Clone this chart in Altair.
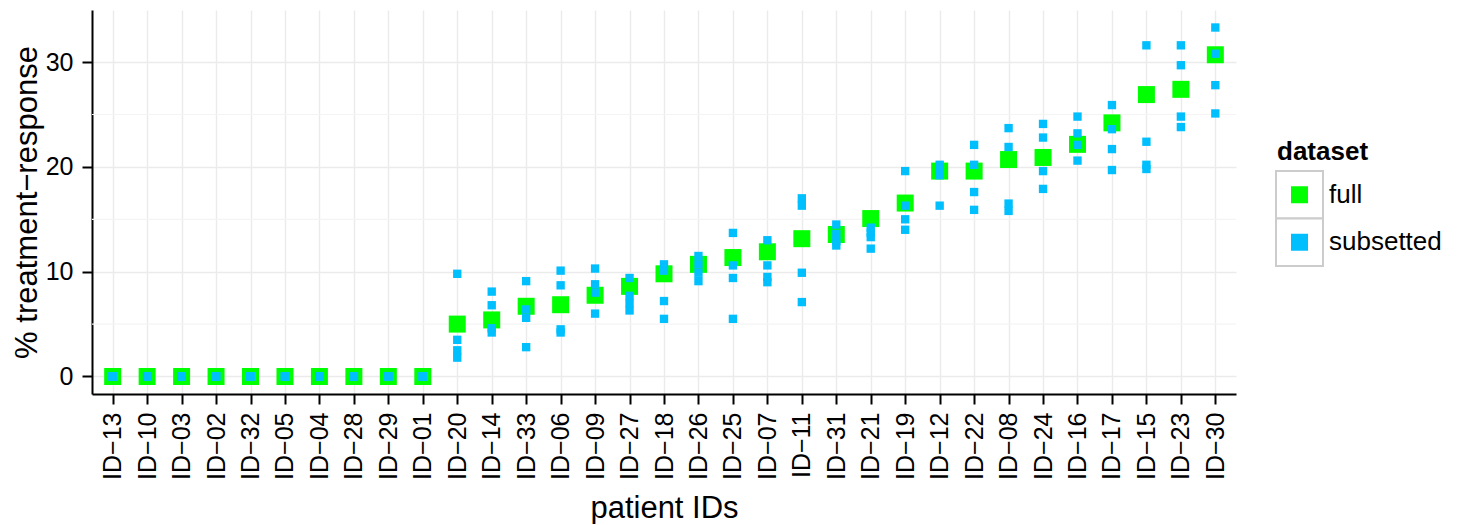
import altair as alt
import pandas as pd

FONT = "Liberation Sans"

patients = ["ID−13", "ID−10", "ID−03", "ID−02", "ID−32", "ID−05", "ID−04", "ID−28",
            "ID−29", "ID−01", "ID−20", "ID−14", "ID−33", "ID−06", "ID−09", "ID−27",
            "ID−18", "ID−26", "ID−25", "ID−07", "ID−11", "ID−31", "ID−21", "ID−19",
            "ID−12", "ID−22", "ID−08", "ID−24", "ID−16", "ID−17", "ID−15", "ID−23", "ID−30"]

full_values = [0, 0, 0, 0, 0, 0, 0, 0, 0, 0,
               5.0, 5.4, 6.7, 6.85, 7.75, 8.6, 9.8, 10.7, 11.35, 11.9, 13.15, 13.55,
               15.07, 16.55, 19.6, 19.6, 20.7, 20.9, 22.15, 24.2, 26.9, 27.4, 30.7]

subset_values = [
    [0, 0, 0, 0], [0, 0, 0, 0], [0, 0, 0, 0], [0, 0, 0, 0], [0, 0, 0, 0],
    [0, 0, 0, 0], [0, 0, 0, 0], [0, 0, 0, 0], [0, 0, 0, 0], [0, 0, 0, 0],
    [9.8, 3.5, 2.5, 1.8],      # ID-20
    [8.1, 6.8, 4.6, 4.2],      # ID-14
    [9.1, 6.4, 5.6, 2.8],      # ID-33
    [10.1, 8.7, 4.5, 4.2],     # ID-06
    [10.3, 8.8, 8.0, 6.0],     # ID-09
    [9.4, 7.7, 7.0, 6.3],      # ID-27
    [10.7, 10.1, 7.2, 5.5],    # ID-18
    [11.5, 10.7, 9.9, 9.1],    # ID-26
    [13.7, 10.6, 9.4, 5.5],    # ID-25
    [13.0, 10.6, 9.5, 9.0],    # ID-07
    [17.0, 16.3, 9.9, 7.1],    # ID-11
    [14.5, 13.6, 12.9, 12.5],  # ID-31
    [14.2, 13.7, 13.3, 12.2],  # ID-21
    [19.6, 16.3, 15.0, 14.0],  # ID-19
    [20.2, 19.6, 19.2, 16.3],  # ID-12
    [22.1, 20.2, 17.6, 15.9],  # ID-22
    [23.7, 21.9, 16.5, 15.8],  # ID-08
    [24.1, 22.8, 19.6, 17.9],  # ID-24
    [24.8, 23.2, 22.1, 20.6],  # ID-16
    [25.9, 23.6, 21.7, 19.7],  # ID-17
    [31.6, 22.4, 20.2, 19.8],  # ID-15
    [31.6, 29.7, 24.8, 23.8],  # ID-23
    [33.3, 30.8, 27.8, 25.1],  # ID-30
]

y_ticks = [0, 10, 20, 30]
minor_grid = [5, 15, 25]
legend_labels = ["full", "subsetted"]
legend_colors = ["#00ff00", "#00bfff"]

df_full = pd.DataFrame({"patient": patients, "value": full_values, "dataset": "full"})
df_sub = pd.DataFrame([
    {"patient": p, "value": v, "dataset": "subsetted"}
    for p, vals in zip(patients, subset_values) for v in vals
])
df_minor = pd.DataFrame({"value": minor_grid})

color_scale = alt.Scale(domain=legend_labels, range=legend_colors)
no_frame = alt.ViewBackground(stroke="transparent", strokeWidth=0)

x_enc = alt.X(
    "patient:N", sort=patients,
    scale=alt.Scale(type="point", padding=0.6, domain=patients),
    axis=alt.Axis(title="patient IDs", labelAngle=270, labelFontSize=25, labelColor="black",
                  titleFontSize=31, titleColor="black", titleFontWeight="normal",
                  titlePadding=14, labelPadding=8,
                  domainColor="black", domainWidth=2, tickColor="black", tickWidth=2,
                  tickSize=10, grid=True, gridColor="#ebebeb", gridWidth=1.4,
                  labelFont=FONT, titleFont=FONT),
)
y_enc = alt.Y(
    "value:Q",
    scale=alt.Scale(domain=[-1.67, 34.97], nice=False, zero=False),
    axis=alt.Axis(title="% treatment−response", values=y_ticks, labelFontSize=25,
                  labelColor="black", titleFontSize=31, titleColor="black",
                  titleFontWeight="normal", titlePadding=2, labelPadding=9,
                  domainColor="black", domainWidth=2, tickColor="black", tickWidth=2,
                  tickSize=10, grid=True, gridColor="#ebebeb", gridWidth=1.4,
                  labelFont=FONT, titleFont=FONT),
)

minor = alt.Chart(df_minor).mark_rule(color="#f4f4f4", strokeWidth=1.2).encode(y=y_enc)
full_pts = alt.Chart(df_full).mark_square(size=289, opacity=1).encode(
    x=x_enc, y=y_enc,
    color=alt.Color("dataset:N", scale=color_scale, legend=None),
)
sub_pts = alt.Chart(df_sub).mark_square(size=70, opacity=1).encode(
    x=x_enc, y=y_enc,
    color=alt.Color("dataset:N", scale=color_scale, legend=None),
)
main = alt.layer(minor, full_pts, sub_pts).properties(width=1144, height=384, view=no_frame)

# custom legend (boxed keys like the reference)
leg_df = pd.DataFrame({"dataset": legend_labels})
ly = alt.Y("dataset:N", axis=None,
           scale=alt.Scale(domain=legend_labels, range=[161, 256], paddingInner=0, paddingOuter=0))
leg_box = alt.Chart(leg_df).mark_rect(fill="white", stroke="#cccccc", strokeWidth=2).encode(
    y=ly, x=alt.value(0), x2=alt.value(47))
leg_sq = alt.Chart(leg_df).mark_square(size=289, opacity=1).encode(
    y=ly, x=alt.value(23.5), color=alt.Color("dataset:N", scale=color_scale, legend=None))
leg_txt = alt.Chart(leg_df).mark_text(align="left", baseline="middle", fontSize=26,
                                       font=FONT, color="black").encode(
    y=ly, x=alt.value(53), text="dataset:N")
leg_title = alt.Chart(pd.DataFrame({"t": ["dataset"]})).mark_text(
    align="left", baseline="alphabetic", fontSize=26, fontWeight="bold", font=FONT,
    color="black").encode(x=alt.value(1), y=alt.value(150), text="t:N")
legend = alt.layer(leg_box, leg_sq, leg_txt, leg_title).properties(
    width=170, height=384, view=no_frame)

chart = alt.hconcat(main, legend, spacing=38).properties(
    padding={"left": 3, "top": 2, "right": 5, "bottom": 0}
).configure_view(stroke="transparent", strokeWidth=0).configure(font=FONT)

chart.save("out.html", embed_options={"renderer": "svg", "actions": False})
